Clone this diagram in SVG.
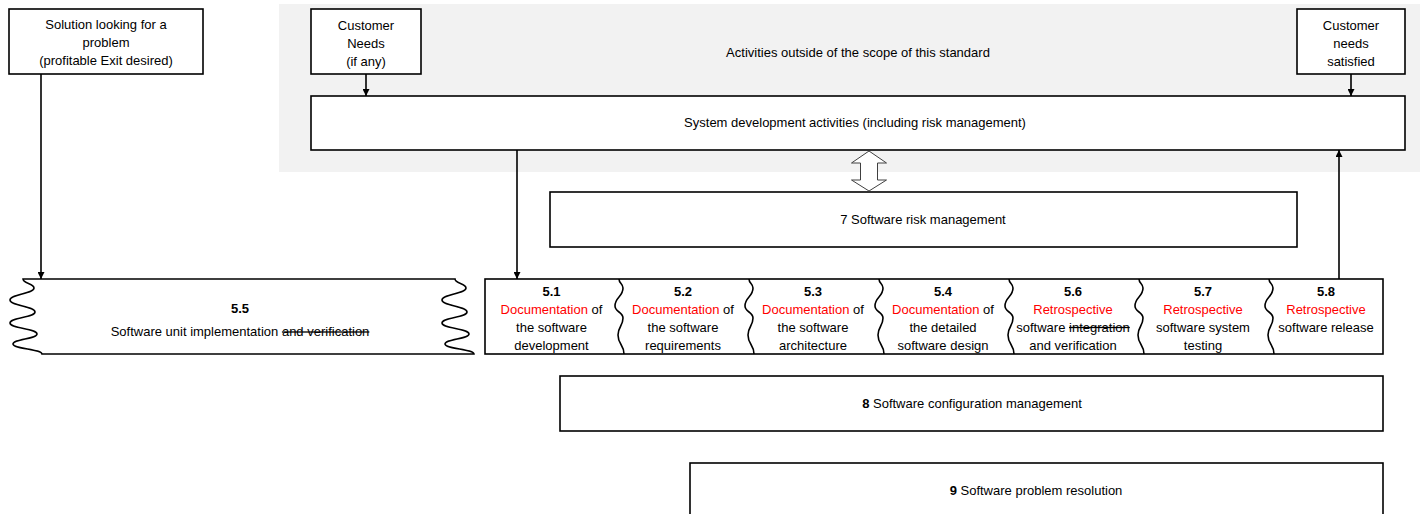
<svg xmlns="http://www.w3.org/2000/svg" xmlns:xlink="http://www.w3.org/1999/xlink" width="1420" height="514" viewBox="0 0 1420 514">
  <style>
    text { font-family: "Liberation Sans", Arial, sans-serif; font-size: 13px; fill: #000; text-anchor: middle; }
    .box { fill: #fff; stroke: #000; stroke-width: 1.6; }
    .num { font-weight: bold; }
    .red { fill: #ff0000; }
    .strike { text-decoration: line-through; }
    .conn { stroke: #000; stroke-width: 1.6; fill: none; }
    .wave { fill: none; stroke: #000; stroke-width: 1.6; }
  </style>
  <defs>
    <marker id="arrow" viewBox="0 0 10 10" refX="10" refY="5" markerWidth="7" markerHeight="7" markerUnits="userSpaceOnUse" orient="auto">
      <path d="M0,0 L10,5 L0,10 Z" fill="#000"/>
    </marker>
    <!-- wavy divider between process columns -->
    <path id="sep" class="wave" d="M1,279 C1,283.5 5,283.5 5,288 C5,297 -3,297 -3,306 C-3,312 5,312 5,318 C5,326.5 0,326.5 0,335 C0,344.5 6,344.5 6,354"/>
  </defs>

  <!-- scope background -->
  <rect id="scope" x="279" y="4" width="1141" height="168" fill="#f2f2f2"/>
  <text x="858" y="57">Activities outside of the scope of this standard</text>

  <g id="solution">
    <rect class="box" x="9" y="9" width="194" height="65"/>
    <text x="106" y="28.5">Solution looking for a</text>
    <text x="106" y="46.5">problem</text>
    <text x="106" y="64.5">(profitable Exit desired)</text>
  </g>

  <g id="customer-needs">
    <rect class="box" x="311" y="9" width="110" height="65"/>
    <text x="366" y="29.5">Customer</text>
    <text x="366" y="47.5">Needs</text>
    <text x="366" y="65.5">(if any)</text>
  </g>

  <g id="customer-satisfied">
    <rect class="box" x="1297" y="9" width="108" height="65"/>
    <text x="1351" y="29.5">Customer</text>
    <text x="1351" y="47.5">needs</text>
    <text x="1351" y="65.5">satisfied</text>
  </g>

  <g id="system-dev">
    <rect class="box" x="311" y="96" width="1094" height="54"/>
    <text x="855" y="127">System development activities (including risk management)</text>
  </g>

  <g id="risk-mgmt">
    <rect class="box" x="550" y="192" width="747" height="55"/>
    <text x="923" y="224">7 Software risk management</text>
  </g>

  <g id="unit-impl">
    <path class="box" d="M23,279 L455,279
      C455,283.5 466,283.5 466,288 C466,294 442,294 442,300 C442,306 467,306 467,312
      C467,317.5 442,317.5 442,323 C442,328.5 469,328.5 469,334 C469,339 445,339 445,344
      C445,349 474,349 474,354 L42,354
      C42,349 13,349 13,344 C13,339 37,339 37,334 C37,328.5 10,328.5 10,323
      C10,317.5 35,317.5 35,312 C35,306 10,306 10,300 C10,294 34,294 34,288
      C34,283.5 23,283.5 23,279 Z"/>
    <text x="240" y="313" class="num">5.5</text>
    <text x="240" y="336">Software unit implementation <tspan class="strike">and verification</tspan></text>
  </g>

  <g id="processes">
    <rect class="box" x="485" y="279" width="898" height="75"/>
    <use xlink:href="#sep" href="#sep" x="618"/>
    <use xlink:href="#sep" href="#sep" x="748"/>
    <use xlink:href="#sep" href="#sep" x="878"/>
    <use xlink:href="#sep" href="#sep" x="1008"/>
    <use xlink:href="#sep" href="#sep" x="1138"/>
    <use xlink:href="#sep" href="#sep" x="1268"/>

    <g id="p51">
      <text x="551.5" y="296" class="num">5.1</text>
      <text x="551.5" y="313.5"><tspan class="red">Documentation</tspan> of</text>
      <text x="551.5" y="331.5">the software</text>
      <text x="551.5" y="349.5">development</text>
    </g>
    <g id="p52">
      <text x="683" y="296" class="num">5.2</text>
      <text x="683" y="313.5"><tspan class="red">Documentation</tspan> of</text>
      <text x="683" y="331.5">the software</text>
      <text x="683" y="349.5">requirements</text>
    </g>
    <g id="p53">
      <text x="813" y="296" class="num">5.3</text>
      <text x="813" y="313.5"><tspan class="red">Documentation</tspan> of</text>
      <text x="813" y="331.5">the software</text>
      <text x="813" y="349.5">architecture</text>
    </g>
    <g id="p54">
      <text x="943" y="296" class="num">5.4</text>
      <text x="943" y="313.5"><tspan class="red">Documentation</tspan> of</text>
      <text x="943" y="331.5">the detailed</text>
      <text x="943" y="349.5">software design</text>
    </g>
    <g id="p56">
      <text x="1073" y="296" class="num">5.6</text>
      <text x="1073" y="313.5" class="red">Retrospective</text>
      <text x="1073" y="331.5">software <tspan class="strike">integration</tspan></text>
      <text x="1073" y="349.5">and verification</text>
    </g>
    <g id="p57">
      <text x="1203" y="296" class="num">5.7</text>
      <text x="1203" y="313.5" class="red">Retrospective</text>
      <text x="1203" y="331.5">software system</text>
      <text x="1203" y="349.5">testing</text>
    </g>
    <g id="p58">
      <text x="1326" y="296" class="num">5.8</text>
      <text x="1326" y="313.5" class="red">Retrospective</text>
      <text x="1326" y="331.5">software release</text>
    </g>
  </g>

  <g id="config-mgmt">
    <rect class="box" x="560" y="376" width="823" height="55"/>
    <text x="972" y="408"><tspan class="num">8</tspan> Software configuration management</text>
  </g>

  <g id="problem-res">
    <rect class="box" x="690" y="463" width="693" height="60"/>
    <text x="1036" y="495"><tspan class="num">9</tspan> Software problem resolution</text>
  </g>

  <g id="connectors">
    <line class="conn" x1="41" y1="74" x2="41" y2="279" marker-end="url(#arrow)"/>
    <line class="conn" x1="366" y1="74" x2="366" y2="96" marker-end="url(#arrow)"/>
    <line class="conn" x1="1351" y1="74" x2="1351" y2="96" marker-end="url(#arrow)"/>
    <line class="conn" x1="517" y1="150" x2="517" y2="279" marker-end="url(#arrow)"/>
    <line class="conn" x1="1339" y1="279" x2="1339" y2="150" marker-end="url(#arrow)"/>
    <!-- two-way block arrow between system and software risk management -->
    <polygon points="869,151 886.5,163 877.5,163 877.5,180 886.5,180 869,191 851.5,180 860.5,180 860.5,163 851.5,163" fill="#fff" stroke="#404040" stroke-width="1"/>
  </g>
</svg>
